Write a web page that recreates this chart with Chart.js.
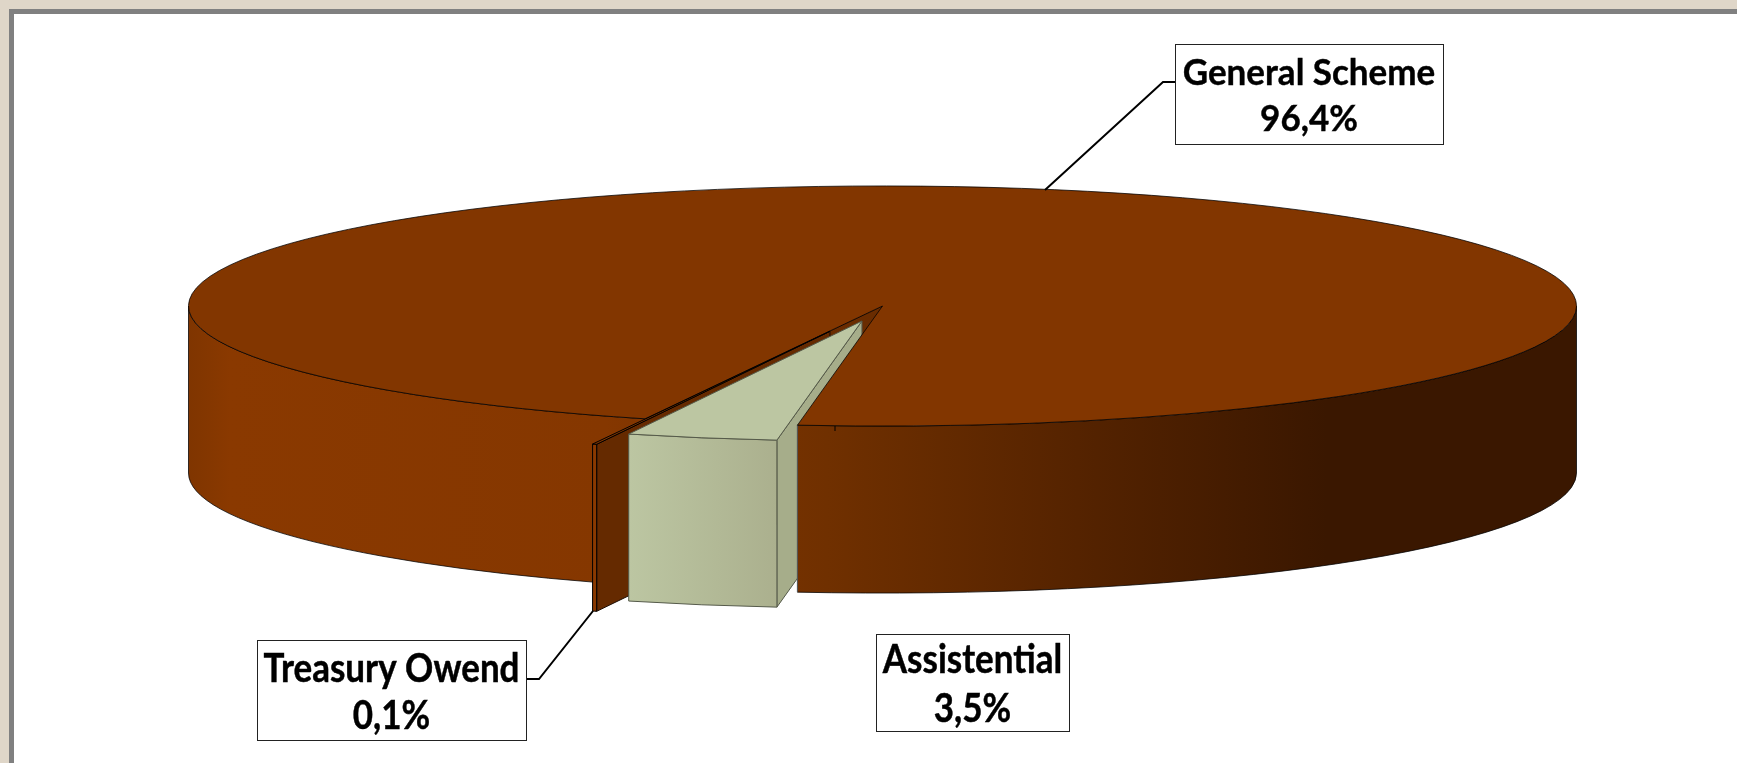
<!DOCTYPE html>
<html>
<head>
<meta charset="utf-8">
<script src="https://cdn.jsdelivr.net/npm/chart.js@4"></script>
<style>
  html, body { margin: 0; padding: 0; background: #dfd6c8; overflow: hidden; }
  #frame { position: absolute; left: 9px; top: 9px; width: 1728px; height: 754px; box-sizing: border-box;
           background: #fff; border-left: 5px solid #808080; border-top: 5px solid #808080; }
  canvas { position: absolute; left: 0; top: 0; }
</style>
</head>
<body>
<div id="frame"></div>
<canvas id="grafikPie" width="1737" height="763"></canvas>
<script>
// Data
const labels = ['General Scheme', 'Assistential', 'Treasury Owend'];
const values = [96.4, 3.5, 0.1];

// Tampilan 3D
const tilt = 0.173;      // pie flattened to an ellipse
const depth = 167;       // height of the side wall
const sliceShift = [0, 89, 155];
const topColors = ['#823600', '#bcc6a2', '#823600'];

// Label boxes, leader lines
const boxes = [
  { x: 1175, y: 44, w: 268, h: 100, line1: 73, line2: 119, stretch: 1.02, leader: [[1045, 190], [1163, 82], [1175, 82]] },
  { x: 876, y: 634, w: 193, h: 97, line1: 660, line2: 709, stretch: 1.14, leader: null },
  { x: 257, y: 640, w: 269, h: 100, line1: 669, line2: 716, stretch: 1.14, leader: [[593, 611], [539, 679], [526, 679]] }
];

function shiftOf(el, i) {
  const mid = (el.startAngle + el.endAngle) / 2;
  return { dx: Math.cos(mid) * sliceShift[i], dy: Math.sin(mid) * sliceShift[i] * tilt };
}

// front wall between two angles
function outerWall(ctx, el, s, a0, a1, fill, stroke) {
  const rx = el.outerRadius, ry = el.outerRadius * tilt;
  const cx = el.x + s.dx, cy = el.y + s.dy;
  ctx.beginPath();
  ctx.ellipse(cx, cy, rx, ry, 0, a0, a1);
  ctx.ellipse(cx, cy + depth, rx, ry, 0, a1, a0, true);
  ctx.closePath();
  ctx.fillStyle = fill;
  ctx.fill();
  ctx.strokeStyle = stroke;
  ctx.lineWidth = 1;
  ctx.stroke();
}

// radial wall from centre to the rim at a given angle
function radialWall(ctx, el, s, a, fill, stroke) {
  const cx = el.x + s.dx, cy = el.y + s.dy;
  const px = cx + Math.cos(a) * el.outerRadius, py = cy + Math.sin(a) * el.outerRadius * tilt;
  ctx.beginPath();
  ctx.moveTo(cx, cy);
  ctx.lineTo(px, py);
  ctx.lineTo(px, py + depth);
  ctx.lineTo(cx, cy + depth);
  ctx.closePath();
  ctx.fillStyle = fill;
  ctx.fill();
  ctx.strokeStyle = stroke;
  ctx.lineWidth = 1;
  ctx.stroke();
}

// top face drawn by Chart.js itself, only squeezed
function topFace(ctx, el, s, stroke) {
  ctx.save();
  ctx.translate(s.dx, s.dy);
  ctx.translate(el.x, el.y);
  ctx.scale(1, tilt);
  ctx.translate(-el.x, -el.y);
  el.draw(ctx);
  ctx.restore();
  ctx.beginPath();
  ctx.moveTo(el.x + s.dx, el.y + s.dy);
  ctx.ellipse(el.x + s.dx, el.y + s.dy, el.outerRadius, el.outerRadius * tilt, 0, el.startAngle, el.endAngle);
  ctx.closePath();
  ctx.strokeStyle = stroke;
  ctx.lineWidth = 1;
  ctx.stroke();
}

// right-hand cut edge of General, down the wall
function radialEdge(ctx, el, s) {
  const px = el.x + s.dx + Math.cos(el.endAngle) * el.outerRadius;
  const py = el.y + s.dy + Math.sin(el.endAngle) * el.outerRadius * tilt;
  ctx.beginPath();
  ctx.moveTo(px, py);
  ctx.lineTo(px, py + depth);
  ctx.strokeStyle = '#5a5a5a';
  ctx.lineWidth = 1;
  ctx.stroke();
}

const pie3d = {
  id: 'pie3d',
  beforeDatasetsDraw(chart) {
    const ctx = chart.ctx;
    const arcs = chart.getDatasetMeta(0).data;
    const general = arcs[0], assist = arcs[1], treasury = arcs[2];
    const s0 = shiftOf(general, 0), s1 = shiftOf(assist, 1), s2 = shiftOf(treasury, 2);
    const edge = 'rgba(0,0,0,0.75)';

    // General outer wall gradient
    const g = ctx.createLinearGradient(general.x - general.outerRadius, 0, general.x + general.outerRadius, 0);
    g.addColorStop(0, '#7f3500');
    g.addColorStop(0.03, '#8a3900');
    g.addColorStop(0.3, '#853700');
    g.addColorStop(0.46, '#703000');
    g.addColorStop(0.64, '#552300');
    g.addColorStop(0.82, '#3a1700');
    g.addColorStop(1, '#3a1700');

    // brown wall inside the gap, left part of the outer wall
    radialWall(ctx, general, s0, general.startAngle, '#6a2c00', '#3a1700');
    outerWall(ctx, general, s0, general.startAngle, Math.PI, g, edge);

    // Treasury sliver walls
    radialWall(ctx, treasury, s2, treasury.startAngle, '#652a00', '#1a0a00');
    outerWall(ctx, treasury, s2, treasury.startAngle, treasury.endAngle, '#8a3900', '#000');

    // green side goes under the right part of General
    radialWall(ctx, assist, s1, assist.startAngle, '#a6ad8a', '#555a4a');
    outerWall(ctx, general, s0, 2 * Math.PI, general.endAngle, g, edge);
    radialEdge(ctx, general, s0);
    topFace(ctx, general, s0, edge);

    // stub of hidden leader
    ctx.beginPath();
    ctx.moveTo(835, 426);
    ctx.lineTo(835, 431);
    ctx.strokeStyle = '#000';
    ctx.lineWidth = 1;
    ctx.stroke();

    topFace(ctx, treasury, s2, '#000');

    // Assistential front, start angle is its right side
    const gg = ctx.createLinearGradient(assist.x + s1.dx + Math.cos(assist.endAngle) * assist.outerRadius, 0,
      assist.x + s1.dx + Math.cos(assist.startAngle) * assist.outerRadius, 0);
    gg.addColorStop(0, '#bcc6a2');
    gg.addColorStop(1, '#abb08e');
    outerWall(ctx, assist, s1, assist.startAngle, assist.endAngle, gg, '#555a4a');
    topFace(ctx, assist, s1, '#555a4a');

    return false;
  },
  afterDraw(chart) {
    const ctx = chart.ctx;
    boxes.forEach(function(b, i) {
      if (b.leader) {
        ctx.beginPath();
        b.leader.forEach(function(p, k) {
          if (k === 0) ctx.moveTo(p[0], p[1]); else ctx.lineTo(p[0], p[1]);
        });
        ctx.strokeStyle = '#000';
        ctx.lineWidth = 2;
        ctx.stroke();
      }
      ctx.fillStyle = '#fff';
      ctx.fillRect(b.x, b.y, b.w, b.h);
      ctx.strokeStyle = '#222';
      ctx.lineWidth = 1;
      ctx.strokeRect(b.x + 0.5, b.y + 0.5, b.w, b.h);
      ctx.fillStyle = '#000';
      ctx.strokeStyle = '#000';
      ctx.lineWidth = 0.4;
      ctx.font = 'bold 35px Lato';
      ctx.textAlign = 'center';
      ctx.textBaseline = 'middle';
      [[labels[i], b.line1], [values[i].toFixed(1).replace('.', ',') + '%', b.line2]].forEach(function(t) {
        ctx.save();
        ctx.translate(b.x + b.w / 2, t[1]);
        ctx.scale(1, b.stretch);
        ctx.fillText(t[0], 0, 0);
        ctx.strokeText(t[0], 0, 0);
        ctx.restore();
      });
    });
  }
};

new Chart(document.getElementById('grafikPie').getContext('2d'), {
  type: 'pie',
  data: {
    labels: labels,
    datasets: [{
      data: values,
      backgroundColor: topColors,
      borderWidth: 0
    }]
  },
  options: {
    responsive: false,
    animation: false,
    rotation: 200.0,
    radius: 694,
    layout: { padding: { left: 28, bottom: 151 } },
    plugins: {
      legend: { display: false },
      tooltip: { enabled: false }
    }
  },
  plugins: [pie3d]
});
</script>
</body>
</html>
